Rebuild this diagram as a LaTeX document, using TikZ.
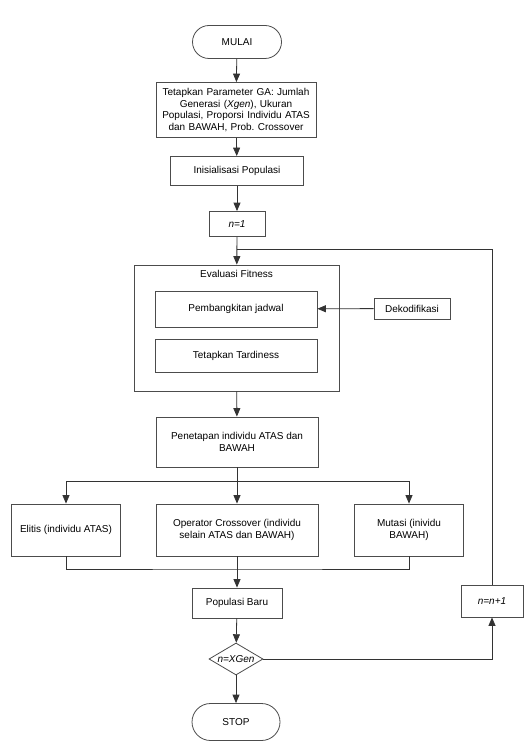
\documentclass[tikz,border=0pt]{standalone}
\usepackage{fontspec}
\setmainfont{Liberation Sans}
\usetikzlibrary{shapes.geometric,shapes.misc,arrows.meta}
\begin{document}
\frenchspacing
\begin{tikzpicture}[x=1pt,y=-1pt,
  box/.style={draw=black!70, line width=0.8pt, fill=white, align=center,
    font=\fontsize{10}{11.7}\selectfont, inner sep=0pt, rectangle},
  term/.style={box, rounded rectangle},
  arr/.style={-{Triangle[length=8.5pt,width=7pt]}, line width=0.8pt, draw=black!80},
  ln/.style={line width=0.8pt, draw=black!80}]
\useasboundingbox (0,0) rectangle (532,746);
\node[term, minimum width=89pt, minimum height=33pt] (mulai) at (237,42) {MULAI};
\node[box, minimum width=160pt, minimum height=55pt, text width=156pt] (param) at (236,110)
  {Tetapkan Parameter GA: Jumlah\\Generasi (\textit{Xgen}), Ukuran\\Populasi, Proporsi Individu ATAS\\dan BAWAH, Prob. Crossover};
\node[box, minimum width=133pt, minimum height=29pt] (init) at (237,171) {Inisialisasi Populasi};
\node[box, minimum width=56pt, minimum height=25pt] (n1) at (237,224) {\textit{n=1}};
\node[box, minimum width=205pt, minimum height=126pt] (eval) at (236.5,328) {};
\node[font=\fontsize{10}{11.7}\selectfont] (evallbl) at (236.5,274) {Evaluasi Fitness};
\node[box, minimum width=162pt, minimum height=36pt] (pemb) at (236,309) {Pembangkitan jadwal};
\node[box, minimum width=162pt, minimum height=33pt] (tard) at (236,355.5) {Tetapkan Tardiness};
\node[box, minimum width=76pt, minimum height=21pt] (deko) at (412,308.5) {Dekodifikasi};
\node[box, minimum width=162pt, minimum height=50pt] (pene) at (237,442) {Penetapan individu ATAS dan\\BAWAH};
\node[box, minimum width=109pt, minimum height=52pt] (elit) at (66,530) {Elitis (individu ATAS)};
\node[box, minimum width=162pt, minimum height=52pt] (oper) at (237,530) {Operator Crossover (individu\\selain ATAS dan BAWAH)};
\node[box, minimum width=109pt, minimum height=52pt] (mut) at (409,530) {Mutasi (inividu\\BAWAH)};
\node[box, minimum width=90pt, minimum height=30pt] (pop) at (237,603) {Populasi Baru};
\node[box, diamond, minimum width=54pt, minimum height=32pt,
  label={[font=\fontsize{10}{11.7}\selectfont]center:\textit{n=XGen}}] (dia) at (236,659) {};
\node[term, minimum width=88pt, minimum height=37pt] (stop) at (236,722) {STOP};
\node[box, minimum width=62pt, minimum height=32pt] (nn1) at (492,601) {\textit{n=n+1}};
\coordinate (split) at (237,481);
\coordinate (merge) at (237,569);
\coordinate (join) at (237,249);
\draw[arr] (mulai) -- (param);
\draw[arr] (param) -- (init);
\draw[arr] (init) -- (n1);
\draw[arr] (n1) -- (eval);
\draw[arr] (deko) -- (pemb);
\draw[arr] (eval) -- (pene);
\draw[ln] (pene) -- (split);
\draw[arr] (split) -| (elit);
\draw[arr] (split) -| (mut);
\draw[arr] (split) -- (oper);
\draw[ln] (elit.south) |- (merge) -| (mut.south);
\draw[ln] (oper) -- (merge);
\draw[arr] (merge) -- (pop);
\draw[arr] (pop) -- (dia);
\draw[arr] (dia) -- (stop);
\draw[arr] (dia.east) -| (nn1);
\draw[ln] (nn1) |- (join);
\end{tikzpicture}
\end{document}
